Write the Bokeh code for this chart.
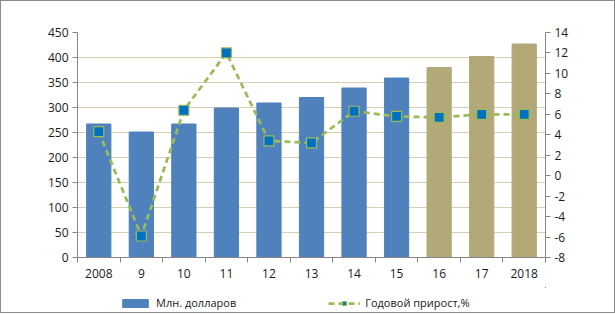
from bokeh.plotting import figure
from bokeh.layouts import column
from bokeh.models import (ColumnDataSource, LinearAxis, Range1d, FixedTicker,
                          Legend, LegendItem)
from bokeh.embed import file_html
from bokeh.resources import INLINE

# ---- data ----
year_labels = ["2008", "9", "10", "11", "12", "13", "14", "15", "16", "17", "2018"]
usd_mln = [267, 251, 267, 299, 309, 320, 339, 359, 380, 402, 427]
growth_pct = [4.3, -5.9, 6.4, 12.0, 3.4, 3.2, 6.3, 5.8, 5.7, 6.0, 6.0]
n_actual = 8  # first 8 years actual, rest forecast
bar_name = "Млн. долларов"
line_name = "Годовой прирост,%"

FONT = "Open Sans"
BAR_BLUE = "#4F81BD"
BAR_OLIVE = "#B2A878"
LINE_GREEN = "#9BBB59"
MARK_BLUE = "#0070C0"
xs = list(range(len(year_labels)))

src_act = ColumnDataSource(dict(x=xs[:n_actual], top=usd_mln[:n_actual]))
src_fc = ColumnDataSource(dict(x=xs[n_actual:], top=usd_mln[n_actual:]))
src_line = ColumnDataSource(dict(x=xs, y=growth_pct))

p = figure(width=613, height=286, output_backend="svg", toolbar_location=None,
           x_range=Range1d(-0.5, len(xs) - 0.5), y_range=Range1d(0, 450),
           min_border_left=76, min_border_right=69, min_border_top=31,
           min_border_bottom=30)
p.outline_line_color = None
p.background_fill_color = "white"
p.border_fill_color = "white"

p.extra_y_ranges = {"pct": Range1d(-8, 14)}

# grid
p.xgrid.grid_line_color = None
p.ygrid.grid_line_color = "#D6CFB2"
p.ygrid.grid_line_width = 1
p.yaxis.ticker = FixedTicker(ticks=list(range(0, 451, 50)))

# bars
bar_kw = dict(width=0.57)
p.vbar(x="x", top="top", source=src_act, fill_color=BAR_BLUE,
       line_color=BAR_BLUE, **bar_kw)
p.vbar(x="x", top="top", source=src_fc, fill_color=BAR_OLIVE,
       line_color=BAR_OLIVE, **bar_kw)

# line on secondary axis
line_kw = dict(line_color=LINE_GREEN, line_width=2.75, line_dash="6 4")
mark_kw = dict(marker="square", size=10, fill_color=MARK_BLUE,
               line_color=LINE_GREEN, line_width=1.2)
p.line(x="x", y="y", source=src_line, y_range_name="pct", **line_kw)
p.scatter(x="x", y="y", source=src_line, y_range_name="pct", **mark_kw)

# axes styling
axis_col = "#868686"
def style_axis(ax):
    ax.axis_line_color = axis_col
    ax.major_tick_line_color = axis_col
    ax.minor_tick_line_color = None
    ax.major_tick_in = 0
    ax.major_tick_out = 5
    ax.major_label_text_font = FONT
    ax.major_label_text_font_size = "12px"
    ax.major_label_text_color = "#1a1a1a"
    ax.major_label_standoff = 4

style_axis(p.yaxis[0])

pct_ticks = list(range(-8, 15, 2))
right = LinearAxis(y_range_name="pct", ticker=FixedTicker(ticks=pct_ticks))
right.major_label_overrides = {t: str(t) for t in pct_ticks}
style_axis(right)
p.add_layout(right, "right")

xa = p.xaxis[0]
style_axis(xa)
xa.ticker = FixedTicker(ticks=xs, minor_ticks=[i - 0.5 for i in range(len(xs) + 1)])
xa.major_label_overrides = {i: lab for i, lab in enumerate(year_labels)}
xa.major_tick_line_color = None
xa.minor_tick_line_color = axis_col
xa.minor_tick_in = 0
xa.minor_tick_out = 5
xa.major_label_standoff = 6

# legend in a small figure below; its renderers reuse the data but the
# ranges keep them out of view, so only the legend is visible
lf = figure(width=613, height=25, output_backend="svg", toolbar_location=None,
            x_range=Range1d(-1001, -1000), y_range=Range1d(-1001, -1000),
            x_axis_location=None, y_axis_location=None,
            min_border=0, outline_line_color=None)
lf.grid.visible = False
lf.border_fill_color = "white"
lr_bar = lf.vbar(x="x", top="top", source=src_act, fill_color=BAR_BLUE,
                 line_color=BAR_BLUE, **bar_kw)
lr_line = lf.line(x="x", y="y", source=src_line, **line_kw)
lr_mark = lf.scatter(x="x", y="y", source=src_line, **mark_kw)

legend = Legend(items=[LegendItem(label=bar_name, renderers=[lr_bar]),
                       LegendItem(label=line_name, renderers=[lr_line, lr_mark])],
                orientation="horizontal", location=(42, 2),
                label_text_font=FONT, label_text_font_size="11px",
                label_text_color="#1a1a1a", glyph_width=32, glyph_height=10,
                spacing=92, border_line_color=None, background_fill_alpha=0,
                margin=0, padding=4)
lf.add_layout(legend, "center")

layout = column(p, lf, spacing=0, styles={"border": "1px solid #8c8c8c"})

open("out.html", "w").write(file_html(layout, INLINE))
